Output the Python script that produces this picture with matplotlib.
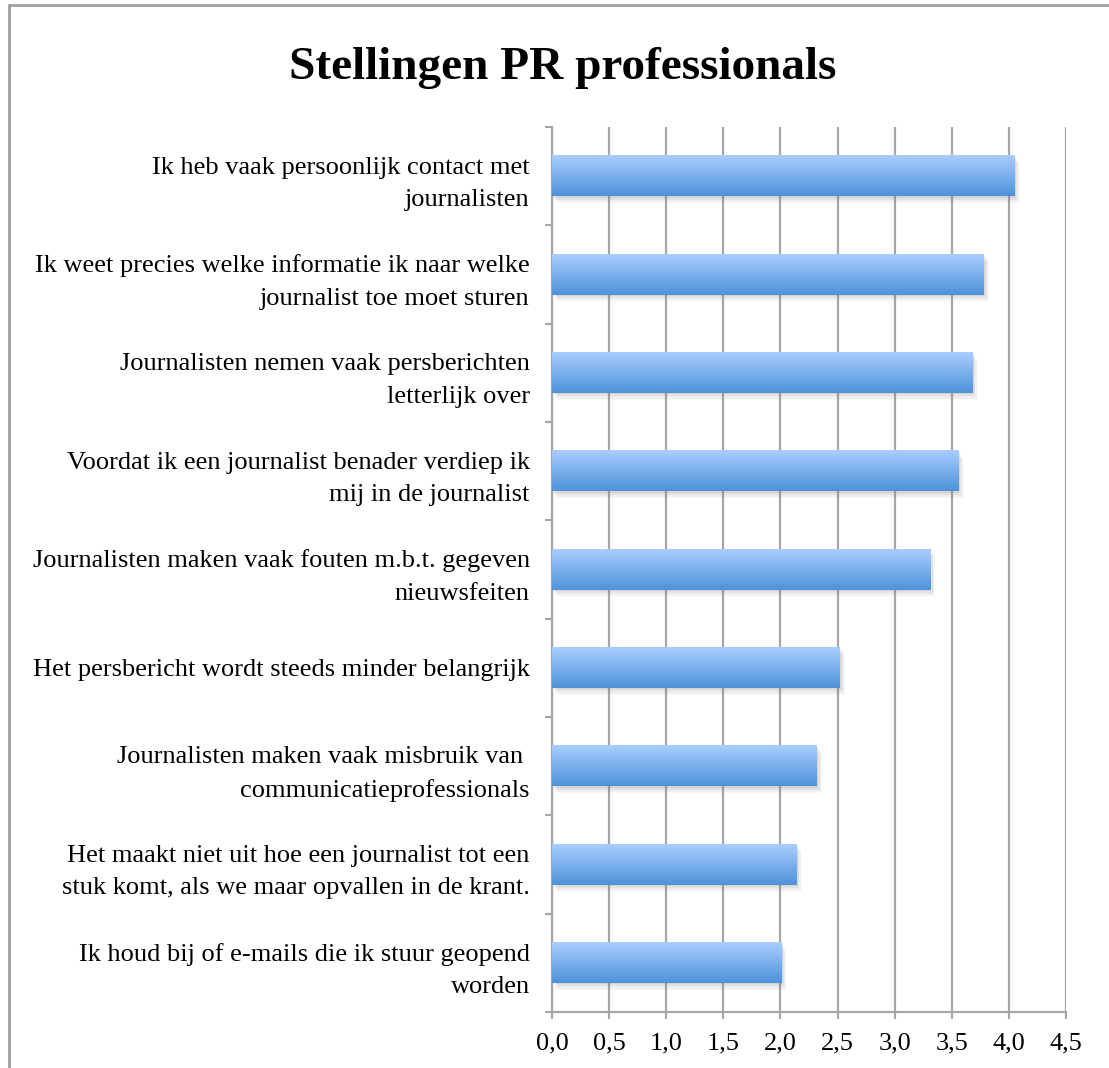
import numpy as np
import matplotlib
matplotlib.use("Agg")
import matplotlib.pyplot as plt
import matplotlib.patheffects as pe
from matplotlib.colors import LinearSegmentedColormap
from matplotlib.patches import Rectangle

# data, top to bottom as in the chart
stellingen = [
    "Ik heb vaak persoonlijk contact met\njournalisten",
    "Ik weet precies welke informatie ik naar welke\njournalist toe moet sturen",
    "Journalisten nemen vaak persberichten\nletterlijk over",
    "Voordat ik een journalist benader verdiep ik\nmij in de journalist",
    "Journalisten maken vaak fouten m.b.t. gegeven\nnieuwsfeiten",
    "Het persbericht wordt steeds minder belangrijk",
    "Journalisten maken vaak misbruik van \ncommunicatieprofessionals",
    "Het maakt niet uit hoe een journalist tot een\nstuk komt, als we maar opvallen in de krant.",
    "Ik houd bij of e-mails die ik stuur geopend\nworden",
]
gemiddelde = [4.05, 3.78, 3.68, 3.56, 3.31, 2.52, 2.32, 2.14, 2.01]
xticks = [0, 0.5, 1.0, 1.5, 2.0, 2.5, 3.0, 3.5, 4.0, 4.5]
xticklabels = ["0,0", "0,5", "1,0", "1,5", "2,0", "2,5", "3,0", "3,5", "4,0", "4,5"]

serif = ["Liberation Serif", "DejaVu Serif"]
grey = "#A6A6A6"

fig = plt.figure(figsize=(11.09, 10.68), dpi=100)
ax = fig.add_axes([552/1109, 1 - 1012/1068, (1066 - 552)/1109, (1012 - 127)/1068])

pos = np.arange(len(stellingen))
shadow = [pe.SimplePatchShadow(offset=(1, -1), shadow_rgbFace="#808080", alpha=0.14),
          pe.SimplePatchShadow(offset=(2, -2.5), shadow_rgbFace="#808080", alpha=0.11),
          pe.SimplePatchShadow(offset=(3, -4), shadow_rgbFace="#808080", alpha=0.08),
          pe.SimplePatchShadow(offset=(3.5, -5), shadow_rgbFace="#808080", alpha=0.05),
          pe.Normal()]
bars = ax.barh(pos, gemiddelde, height=0.41, color="#5096DB", zorder=3)
for b in bars:
    b.set_path_effects(shadow)

# gradient fill on top of each bar
cmap = LinearSegmentedColormap.from_list("blauw", ["#AACDFF", "#4E93DA"])
grad = np.linspace(0, 1, 64).reshape(-1, 1)
for b in bars:
    x0, y0, w, h = b.get_x(), b.get_y(), b.get_width(), b.get_height()
    ax.imshow(grad, cmap=cmap, aspect="auto", origin="upper",
              extent=(x0, x0 + w, y0 + h, y0), zorder=4, interpolation="bilinear")

ax.set_xlim(0, 4.5)
ax.set_ylim(len(stellingen) - 0.5, -0.5)

ax.set_xticks(xticks)
ax.set_xticklabels(xticklabels, fontfamily=serif, fontsize=19)
ax.xaxis.grid(True, color=grey, linewidth=1.6, zorder=0)
ax.set_axisbelow(True)
ax.tick_params(axis="x", length=5, width=1.5, color=grey, pad=10)

ax.set_yticks(pos)
ax.set_yticklabels(stellingen, fontfamily=serif, fontsize=19, linespacing=1.6)
ax.set_yticks(np.arange(len(stellingen) + 1) - 0.5, minor=True)
ax.tick_params(axis="y", which="major", length=0, pad=16)
ax.tick_params(axis="y", which="minor", length=5, width=1.5, color=grey)

for s in ["top", "right"]:
    ax.spines[s].set_visible(False)
for s in ["left", "bottom"]:
    ax.spines[s].set_color(grey)
    ax.spines[s].set_linewidth(1.6)

fig.text(563/1109, 1 - 79/1068, "Stellingen PR professionals", ha="center", va="baseline",
         fontfamily=serif, fontsize=34, fontweight="bold")

# outer chart frame (right and bottom edge fall outside the picture)
fig.add_artist(Rectangle((9/1109, -0.1), 1.2, 1.1 - 5/1068, transform=fig.transFigure,
                         fill=False, edgecolor="#A0A0A0", linewidth=2))

fig.savefig("out.png", dpi=100, facecolor="white")
